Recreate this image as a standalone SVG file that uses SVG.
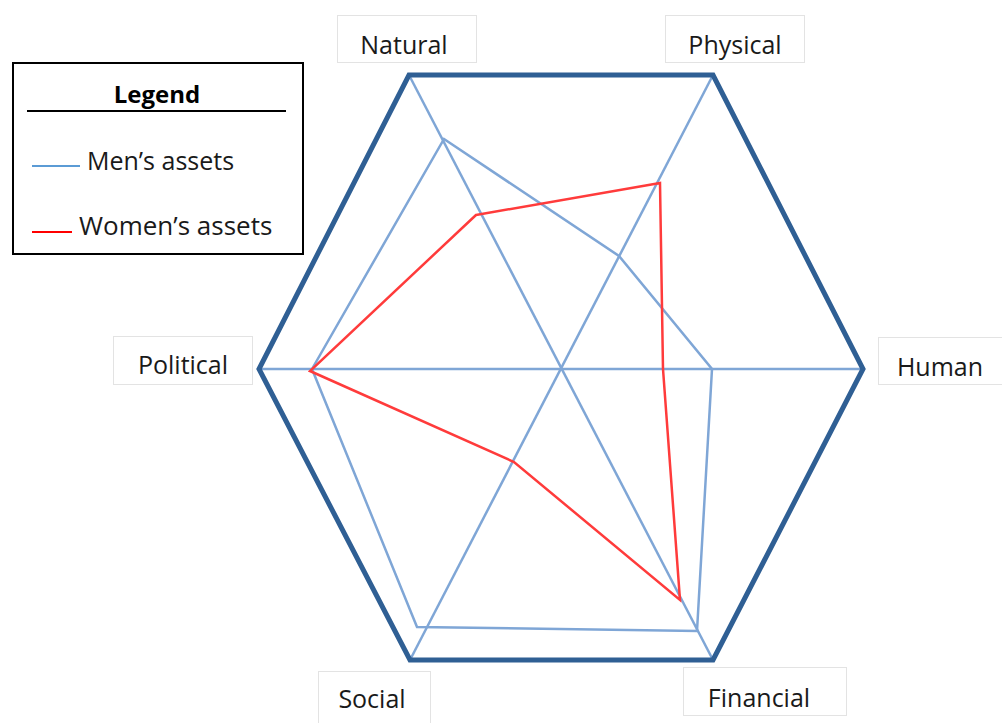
<svg xmlns="http://www.w3.org/2000/svg" width="1002" height="723" viewBox="0 0 1002 723">
<style>
  .lbl { font-family: "Open Sans", "Liberation Sans", sans-serif; font-size: 25px; fill: #1a1a1a; }
  .box { fill: #ffffff; stroke: #e3e3e3; stroke-width: 1; }
  .axis { stroke: #7fa6d6; stroke-width: 2.5; fill: none; }
  .frame { stroke: #2f5f94; stroke-width: 5; fill: none; stroke-linejoin: miter; }
  .men { stroke: #7fa6d6; stroke-width: 2.5; fill: none; stroke-linejoin: miter; }
  .women { stroke: #ff3b3b; stroke-width: 2.5; fill: none; stroke-linejoin: miter; }
</style>
<rect width="1002" height="723" fill="#ffffff"/>

<g id="labels">
  <g id="natural"><rect class="box" x="337.5" y="15.5" width="139" height="47"/><text class="lbl" x="404" y="54" text-anchor="middle">Natural</text></g>
  <g id="physical"><rect class="box" x="665.5" y="15.5" width="139" height="47"/><text class="lbl" x="735" y="54" text-anchor="middle">Physical</text></g>
  <g id="human"><rect class="box" x="878.5" y="337.5" width="130" height="47"/><text class="lbl" x="940" y="376" text-anchor="middle">Human</text></g>
  <g id="financial"><rect class="box" x="683.5" y="667.5" width="163" height="48"/><text class="lbl" x="759" y="707" text-anchor="middle">Financial</text></g>
  <g id="social"><rect class="box" x="318.5" y="671.5" width="112" height="60"/><text class="lbl" x="372" y="708" text-anchor="middle">Social</text></g>
  <g id="political"><rect class="box" x="113.5" y="336.5" width="139" height="48"/><text class="lbl" x="183" y="374" text-anchor="middle">Political</text></g>
</g>

<g id="connectors">
  <line class="axis" x1="409" y1="75" x2="713" y2="660"/>
  <line class="axis" x1="713" y1="75" x2="410" y2="660"/>
  <line class="axis" x1="259" y1="369" x2="863" y2="369"/>
  <polygon class="frame" points="409,75 713,75 863,369 713,660 410,660 259,369"/>
  <polygon class="men" points="444,139 619,256 712,369 697,631 417,627 312,369"/>
  <polygon class="women" points="476,215 660,183 663,369 680,600 514,462 310,371"/>
</g>

<g id="legend">
  <rect x="13" y="63" width="290" height="191" fill="#ffffff" stroke="#000000" stroke-width="2"/>
  <text x="157" y="103" text-anchor="middle" font-family="'Open Sans', 'Liberation Sans', sans-serif" font-size="24" font-weight="bold" fill="#000000">Legend</text>
  <line x1="27" y1="111" x2="286" y2="111" stroke="#000000" stroke-width="2"/>
  <line x1="32" y1="166" x2="80" y2="166" stroke="#5b9bd5" stroke-width="2"/>
  <text class="lbl" x="87" y="170" style="font-size:25px">Men’s assets</text>
  <line x1="32" y1="232" x2="72" y2="232" stroke="#ff0000" stroke-width="2"/>
  <text class="lbl" x="79" y="235" style="font-size:26px">Women’s assets</text>
</g>
</svg>
